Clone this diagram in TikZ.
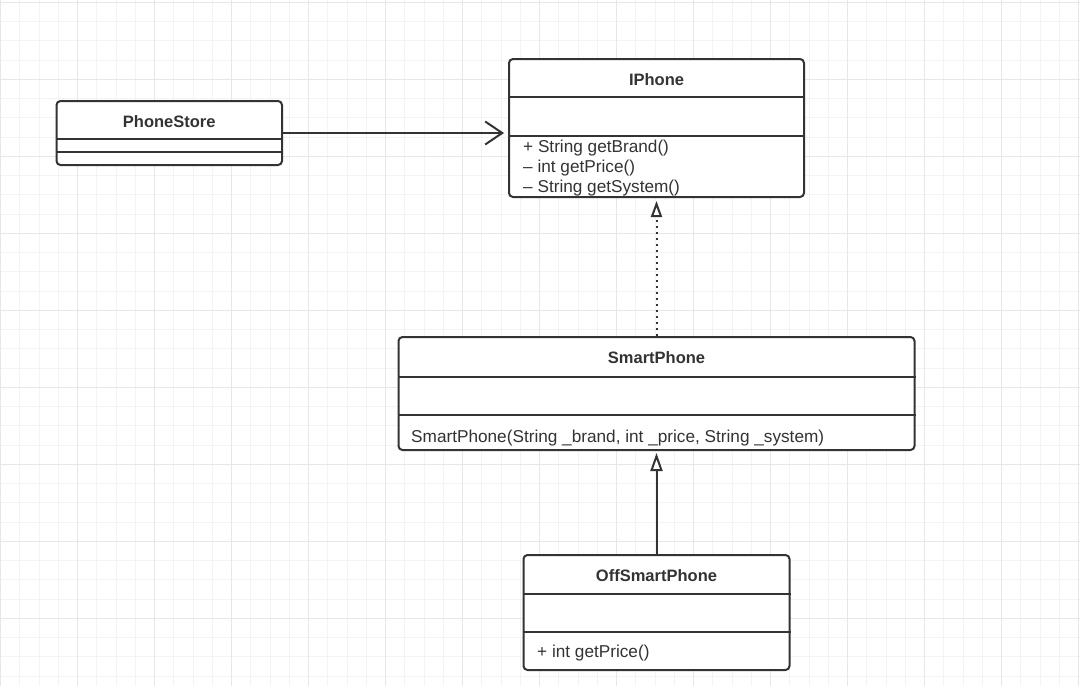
\documentclass[tikz,border=0pt]{standalone}
\usepackage{fontspec}
\setmainfont{Liberation Sans}
\usetikzlibrary{arrows.meta}
\definecolor{ink}{HTML}{333333}
\definecolor{gridminor}{HTML}{F3F3F3}
\definecolor{gridmajor}{HTML}{E7E7E7}
\begin{document}
\begin{tikzpicture}[x=1pt,y=-1pt,
  classbox/.style={draw=ink, line width=2pt, rounded corners=4pt, fill=white, inner sep=0pt},
  title/.style={font=\fontsize{16.5}{20}\selectfont\bfseries, text=ink, inner sep=0pt},
  member/.style={font=\fontsize{17.2}{20}\selectfont, text=ink, inner sep=0pt, align=left, anchor=west},
  sep/.style={draw=ink, line width=2pt},
  conn/.style={draw=ink, line width=2pt},
  minorline/.style={draw=gridminor, line width=1pt},
  majorline/.style={draw=gridmajor, line width=1.2pt},
]
\useasboundingbox (0,0) rectangle (1080,686);
\fill[white] (0,0) rectangle (1080,686);
% grid
\foreach \i in {0,...,56} { \draw[minorline] ({0.7+19.25*\i},0) -- ++(0,686); }
\foreach \i in {0,...,36} { \draw[minorline] (0,{2.4+19.25*\i}) -- ++(1080,0); }
\foreach \i in {0,...,14} { \draw[majorline] ({0.7+77*\i},0) -- ++(0,686); }
\foreach \i in {0,...,8} { \draw[majorline] (0,{2.4+77*\i}) -- ++(1080,0); }

% PhoneStore
\node[classbox, minimum width=225.5pt, minimum height=64pt] (ps) at (169.25,133) {};
\node[title] (pst) at (169.25,122) {PhoneStore};
\draw[sep] (ps.west |- 0,139) -- (ps.east |- 0,139);
\draw[sep] (ps.west |- 0,152) -- (ps.east |- 0,152);

% IPhone
\node[classbox, minimum width=295pt, minimum height=138pt] (ip) at (656.5,128) {};
\node[title] (ipt) at (656.5,80) {IPhone};
\draw[sep] (ip.west |- 0,97) -- (ip.east |- 0,97);
\draw[sep] (ip.west |- 0,136) -- (ip.east |- 0,136);
\node[member] (ipm) at (523,168.5) {+ String getBrand()\\– int getPrice()\\– String getSystem()};

% SmartPhone
\node[classbox, minimum width=516pt, minimum height=113pt] (sp) at (656.5,393.5) {};
\node[title] (spt) at (656.5,358) {SmartPhone};
\draw[sep] (sp.west |- 0,376.5) -- (sp.east |- 0,376.5);
\draw[sep] (sp.west |- 0,415) -- (sp.east |- 0,415);
\node[member] (spm) at (411,438) {SmartPhone(String \_brand, int \_price, String \_system)};

% OffSmartPhone
\node[classbox, minimum width=266pt, minimum height=115pt] (op) at (656.5,612.5) {};
\node[title] (opt) at (656.5,576) {OffSmartPhone};
\draw[sep] (op.west |- 0,594) -- (op.east |- 0,594);
\draw[sep] (op.west |- 0,632) -- (op.east |- 0,632);
\node[member] (opm) at (537,653.5) {+ int getPrice()};

% connectors
\draw[conn, line join=round, -{Straight Barb[length=17pt, width=23pt, line width=2pt]}, shorten >=4pt]
  (ps.east) -- (ip.west |- ps.east);
\draw[conn, dash pattern=on 2pt off 4pt, -{Triangle[fill=white, length=16pt, width=11pt, line width=2pt]}, shorten >=3pt]
  (sp.north) -- (ip.south);
\draw[conn, -{Triangle[fill=white, length=18pt, width=12pt, line width=2pt]}, shorten >=2pt]
  (op.north) -- (sp.south);
\end{tikzpicture}
\end{document}
